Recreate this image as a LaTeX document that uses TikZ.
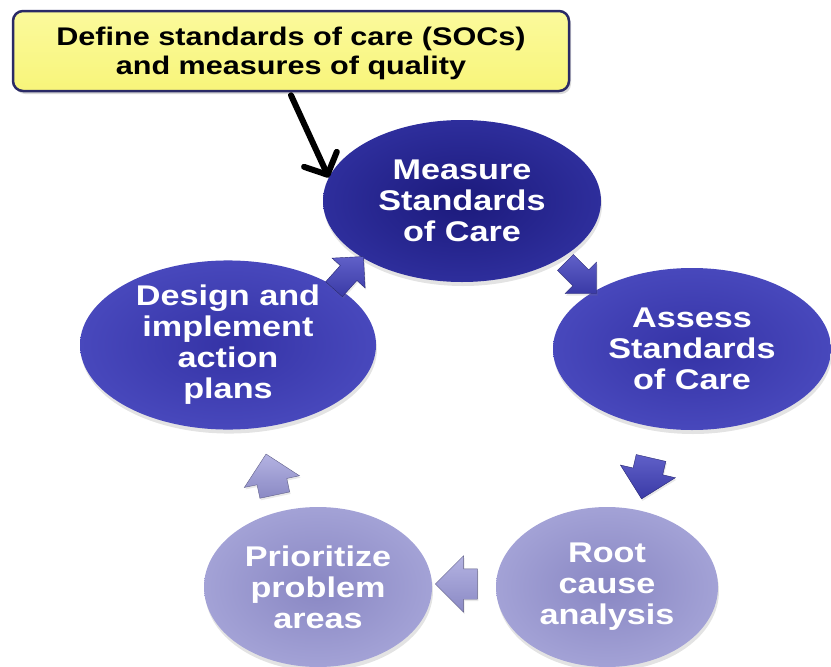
\documentclass[tikz,border=0pt]{standalone}
\usepackage{fontspec}
\setmainfont[FakeStretch=1.2]{Liberation Sans}
\usetikzlibrary{shapes.geometric,shapes.arrows,shadows,arrows.meta}
\definecolor{navyA}{HTML}{1C1A7C}
\definecolor{navyB}{HTML}{2E2E9C}
\definecolor{blueA}{HTML}{3533A6}
\definecolor{blueB}{HTML}{4848BC}
\definecolor{lavA}{HTML}{8987C3}
\definecolor{lavB}{HTML}{A3A2D6}
\definecolor{arrDkA}{HTML}{6060C8}
\definecolor{arrDkB}{HTML}{3A3AA6}
\definecolor{arrLtA}{HTML}{B4B3E2}
\definecolor{arrLtB}{HTML}{8A89C4}
\definecolor{boxYel}{HTML}{F8F57A}
\definecolor{boxYelT}{HTML}{FBFA9C}
\definecolor{boxEdge}{HTML}{2A2A66}
\tikzset{
  stage/.style={ellipse, inner sep=0pt, align=center, text=white,
    font=\fontsize{28.5}{31}\selectfont\bfseries,
    drop shadow={shadow xshift=1pt, shadow yshift=-4pt, opacity=0.22}},
  dark/.style={stage, inner color=navyA, outer color=navyB},
  mid/.style={stage, inner color=blueA, outer color=blueB},
  light/.style={stage, inner color=lavA, outer color=lavB},
  blockarr/.style={single arrow, inner xsep=0pt, inner ysep=15pt, minimum height=42pt,
    single arrow head extend=13pt,
    draw=#1B!70!black, line width=0.4pt, top color=#1A, bottom color=#1B,
    drop shadow={shadow xshift=1pt, shadow yshift=-2pt, opacity=0.18}},
  slimarr/.style={inner ysep=11pt, single arrow head extend=11pt, minimum height=44pt},
  defbox/.style={rectangle, rounded corners=10pt, draw=boxEdge, line width=2.5pt,
    top color=boxYelT, bottom color=boxYel, minimum width=556pt, minimum height=80pt,
    align=center, text depth=0pt, font=\fontsize{25.5}{29}\selectfont\bfseries,
    drop shadow={shadow xshift=2pt, shadow yshift=-3pt, opacity=0.3}},
  pointer/.style={line width=6pt, line cap=round,
    -{Straight Barb[length=17pt, width=36pt, line cap=round, line join=round]}}
}
\begin{document}
\begin{tikzpicture}[x=1pt,y=-1pt]
\useasboundingbox (0,0) rectangle (831,667);

\node[defbox] (def) at (291,51) {Define standards of care (SOCs)\\and measures of quality};

\node[dark, minimum width=278pt, minimum height=162pt] (meas) at (462,201) {Measure\\Standards\\of Care};
\node[mid, minimum width=278pt, minimum height=162pt] (assess) at (692,349) {Assess\\Standards\\of Care};
\node[light, minimum width=222pt, minimum height=160pt] (root) at (607,587) {Root\\cause\\analysis};
\node[light, minimum width=228pt, minimum height=160pt] (prio) at (318,587) {Prioritize\\problem\\areas};
\node[mid, minimum width=296pt, minimum height=166pt] (design) at (228,345) {Design and\\implement\\action\\plans};

\node[blockarr=arrDk, slimarr, rotate=48] (a1) at (345,277) {};
\node[blockarr=arrDk, slimarr, rotate=-45] (a2) at (577,274) {};
\node[blockarr=arrDk, rotate=-103] (a3) at (648,471) {};
\node[blockarr=arrLt, rotate=180] (a4) at (464,584) {};
\node[blockarr=arrLt, rotate=102] (a5) at (272,482) {};

\draw[pointer] ([yshift=-3pt]def.south) -- (meas.170);
\end{tikzpicture}
\end{document}
